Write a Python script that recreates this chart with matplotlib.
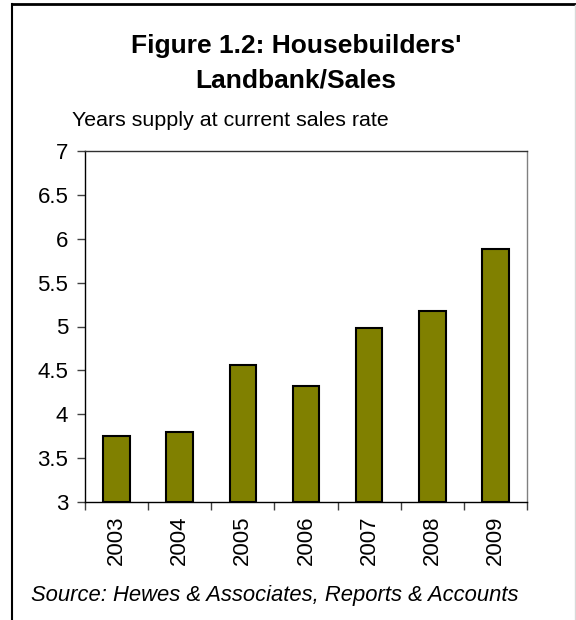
import matplotlib
matplotlib.use("Agg")
import matplotlib.pyplot as plt
from matplotlib.lines import Line2D
import numpy as np

years = ["2003", "2004", "2005", "2006", "2007", "2008", "2009"]
values = [3.75, 3.80, 4.565, 4.32, 4.98, 5.18, 5.88]
yticks = [3, 3.5, 4, 4.5, 5, 5.5, 6, 6.5, 7]
ytick_labels = ["3", "3.5", "4", "4.5", "5", "5.5", "6", "6.5", "7"]

plt.rcParams['font.family'] = ['Liberation Sans', 'DejaVu Sans']

W, H = 576, 620
fig = plt.figure(figsize=(W / 100, H / 100), dpi=100)
fig.patch.set_facecolor("white")

ax = fig.add_axes([85 / W, 1 - 502 / H, (527 - 85) / W, (502 - 151) / H])
x = np.arange(len(years))
ax.bar(x, [v - 3 for v in values], bottom=3, width=0.42, color="#808000",
       edgecolor="black", linewidth=1.5, zorder=3)
ax.set_xlim(-0.5, len(years) - 0.5)
ax.set_ylim(3, 7)
ax.set_yticks(yticks)
ax.set_yticklabels(ytick_labels, fontsize=16)
ax.set_xticks(x)
ax.set_xticklabels(years, rotation=90, fontsize=16)
ax.set_xticks(np.arange(-0.5, len(years) + 0.5, 1), minor=True)
ax.tick_params(axis="x", which="major", length=0, pad=10)
ax.tick_params(axis="x", which="minor", length=6, width=1, color="#404040", direction="out")
ax.tick_params(axis="y", length=6, width=1, color="#404040", direction="out", pad=6)
for s in ["left", "bottom"]:
    ax.spines[s].set_color("black")
    ax.spines[s].set_linewidth(1)
ax.spines["top"].set_color("#303030")
ax.spines["top"].set_linewidth(1)
ax.spines["right"].set_color("#808080")
ax.spines["right"].set_linewidth(1)

fig.text(296 / W, 1 - 46 / H, "Figure 1.2: Housebuilders'", ha="center", va="center",
         fontsize=19, fontweight="bold")
fig.text(296 / W, 1 - 80 / H, "Landbank/Sales", ha="center", va="center",
         fontsize=19, fontweight="bold")
fig.text(72 / W, 1 - 121 / H, "Years supply at current sales rate", ha="left", va="center",
         fontsize=15.4)
fig.text(31 / W, 1 - 595 / H, "Source: Hewes & Associates, Reports & Accounts", ha="left",
         va="center", fontsize=15.8, style="italic")

# figure frame
fig.add_artist(Line2D([11.5 / W, 1.0], [1 - 4 / H, 1 - 4 / H], color="black", linewidth=2,
                      transform=fig.transFigure))
fig.add_artist(Line2D([11.5 / W, 11.5 / W], [0, 1 - 4 / H], color="black", linewidth=1.5,
                      transform=fig.transFigure))
fig.add_artist(Line2D([575 / W, 575 / W], [0, 1 - 5 / H], color="#d8d8d8", linewidth=1,
                      transform=fig.transFigure))

fig.savefig("out.png", dpi=100)
